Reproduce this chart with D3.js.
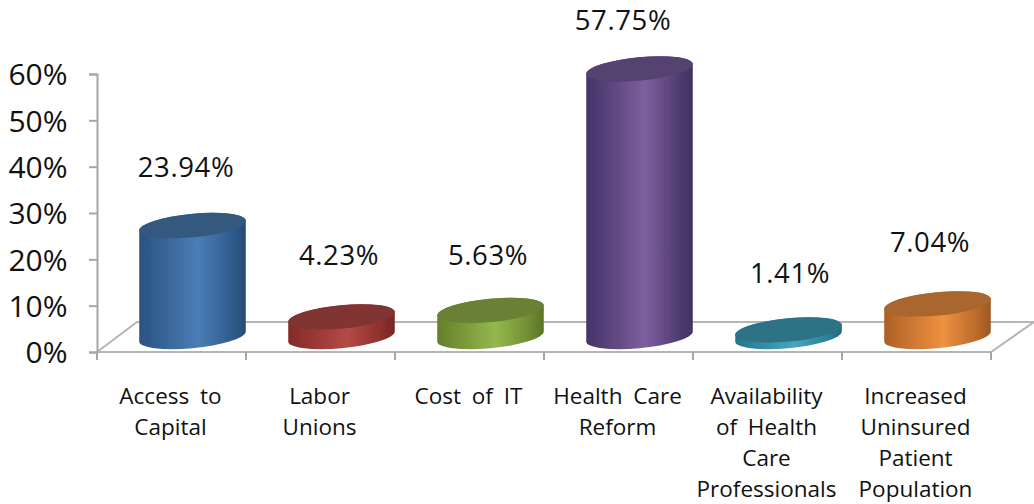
<!DOCTYPE html>
<html><head><meta charset="utf-8">
<script src="https://cdn.jsdelivr.net/npm/d3@7/dist/d3.min.js"></script>
<style>html,body{margin:0;padding:0;background:#fff}svg{display:block}text{font-family:"Open Sans",sans-serif;fill:#111}</style>
</head><body><svg id="c" width="1034" height="504"></svg>
<script>
const categories=[["Access to","Capital"],["Labor","Unions"],["Cost of IT"],["Health Care","Reform"],["Availability","of Health","Care","Professionals"],["Increased","Uninsured","Patient","Population"]];
const values=[23.94,4.23,5.63,57.75,1.41,7.04];
const valueLabels=["23.94%","4.23%","5.63%","57.75%","1.41%","7.04%"];
const yTicks=[0,10,20,30,40,50,60];
const bodyColors=[["#2f5a8c","#4b7db5"],["#8c2f2c","#b54a47"],["#6d8a30","#95b84e"],["#4f3a70","#7d5f9e"],["#2b7f95","#45a5bf"],["#b9692a","#ee9140"]];
const topColors=["#34587f","#813431","#6a8136","#56426f","#2f7285","#a9662f"];
const labelDx=[-6.5,-2.5,-2.5,-16.5,1.5,-7.5];
const labelBaseline=[177,265,265,29.5,283,252];

const W=1034,H=504,svg=d3.select("#c");
const defs=svg.append("defs");
defs.append("filter").attr("id","soft").append("feGaussianBlur").attr("stdDeviation",0.55);
const y=d3.scaleLinear().domain([0,60]).range([352,74]);
const x=d3.scaleBand().domain(d3.range(6)).range([97,991]);
const g=svg.append("g");
const axisCol="#a6a6a6";

// floor
g.append("path").attr("d","M97,352L137,322H1034").attr("fill","none").attr("stroke","#b5b5b5").attr("stroke-width",2);
g.append("path").attr("d","M97,352H991L1034,322").attr("fill","none").attr("stroke","#b5b5b5").attr("stroke-width",2);
// y axis
const yAxis=d3.axisLeft(y).tickValues(yTicks).tickSize(8).tickFormat(d=>d+"%");
const ya=g.append("g").attr("transform","translate(97,0)").call(yAxis);
ya.selectAll("line,path").attr("stroke",axisCol).attr("stroke-width",2);
ya.selectAll("text").attr("x",-29.5).attr("dy","0.36em").style("font-size","30px").attr("text-anchor","end").attr("fill","#111");
// x ticks
g.selectAll(".xt").data(d3.range(7)).join("line").attr("x1",i=>97+i*x.step()).attr("x2",i=>97+i*x.step()).attr("y1",352).attr("y2",360).attr("stroke",axisCol).attr("stroke-width",2);

// cylinders
const a=53.5,b=11.7,rot=-5.5*Math.PI/180,baseOffset=15.5,depthDx=21;
const t0=Math.atan2(-b*Math.sin(rot),a*Math.cos(rot));
const ex=a*Math.cos(t0)*Math.cos(rot)-b*Math.sin(t0)*Math.sin(rot);
const ey=a*Math.cos(t0)*Math.sin(rot)+b*Math.sin(t0)*Math.cos(rot);
const deg=rot*180/Math.PI;
values.forEach((v,i)=>{
  const cx=x(i)+x.bandwidth()/2+depthDx;
  const h=y(0)-y(v), yb=y(0)-baseOffset, yt=yb-h;
  const id="grad"+i;
  const gr=defs.append("linearGradient").attr("id",id).attr("x1","0").attr("x2","1").attr("y1","0").attr("y2","0");
  const [d1,l1]=bodyColors[i];
  gr.append("stop").attr("offset","0").attr("stop-color",d3.color(d1).darker(.25));
  gr.append("stop").attr("offset","0.1").attr("stop-color",d1);
  gr.append("stop").attr("offset","0.55").attr("stop-color",l1);
  gr.append("stop").attr("offset","0.88").attr("stop-color",d1);
  gr.append("stop").attr("offset","1").attr("stop-color",d3.color(d1).darker(.5));
  const m=svg.append("g").attr("filter","url(#soft)");
  m.append("path").attr("fill",`url(#${id})`)
   .attr("d",`M${cx-ex},${yt-ey}L${cx-ex},${yb-ey}A${a},${b} ${deg} 0 0 ${cx+ex},${yb+ey}L${cx+ex},${yt+ey}A${a},${b} ${deg} 0 0 ${cx-ex},${yt-ey}Z`);
  m.append("ellipse").attr("cx",cx).attr("cy",yt).attr("rx",a).attr("ry",b)
   .attr("transform",`rotate(${deg} ${cx} ${yt})`).attr("fill",topColors[i]);
  svg.append("text").attr("x",cx+labelDx[i]).attr("y",labelBaseline[i]).attr("text-anchor","middle").style("font-size","27.5px").style("letter-spacing","0.6px").text(valueLabels[i]);
  const t=svg.append("text").attr("text-anchor","middle").style("font-size","22.5px").style("word-spacing","5px");
  categories[i].forEach((s,k)=>t.append("tspan").attr("x",x(i)+x.bandwidth()/2-1).attr("y",404+k*31).text(s));
});
</script></body></html>
